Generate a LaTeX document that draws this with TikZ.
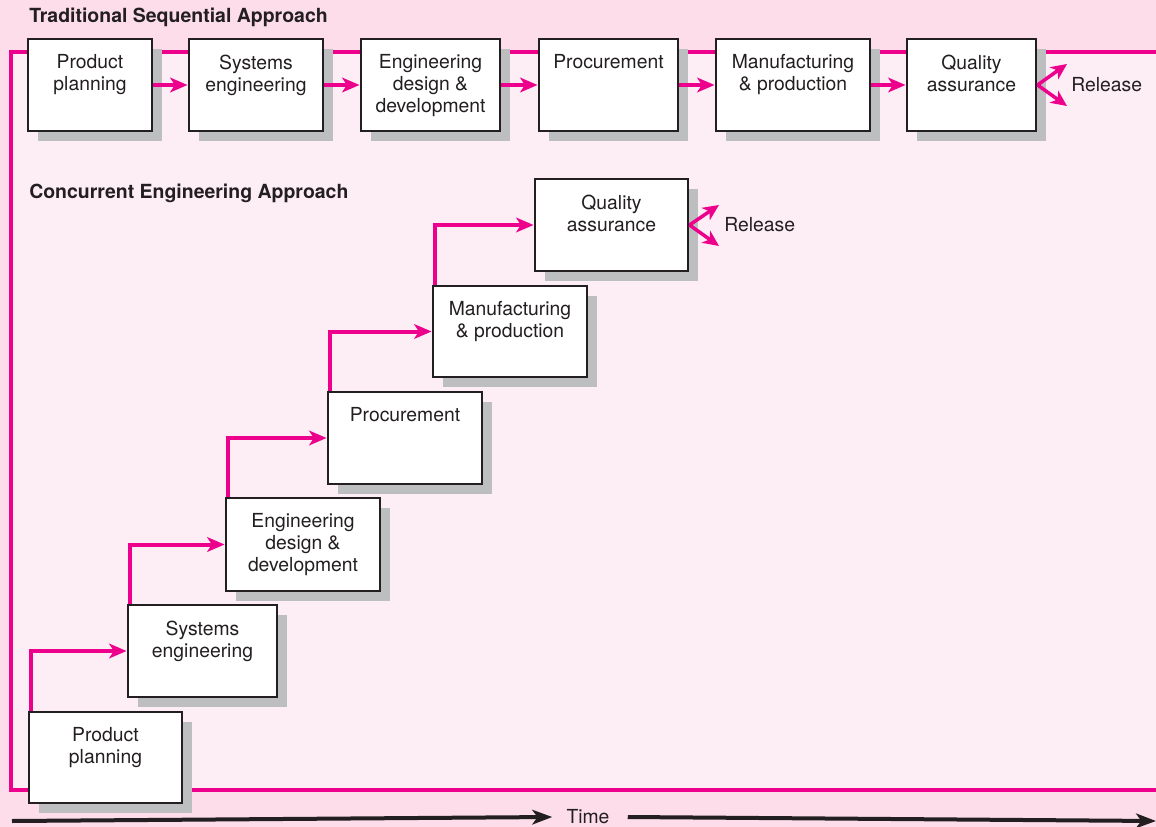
\documentclass[tikz,border=0pt]{standalone}
\usepackage{fontspec}
\setmainfont{TeX Gyre Heros}
\usetikzlibrary{arrows.meta,calc,fit}
\definecolor{mag}{RGB}{236,0,140}
\definecolor{bgout}{RGB}{252,221,233}
\definecolor{bgin}{RGB}{253,237,244}
\definecolor{shadecol}{RGB}{188,190,192}
\definecolor{ink}{RGB}{35,31,32}
\tikzset{
  stagebox/.style={draw=ink, line width=2.2pt, fill=white, inner sep=0pt},
  stagetext/.style={inner sep=0pt, anchor=north, align=center, text=ink,
    font=\fontsize{14.5}{16.5}\selectfont},
  flow/.style={draw=mag, line width=3pt,
    -{Stealth[length=13pt,width=11pt,inset=3.5pt]}},
  relarrow/.style={draw=mag, line width=2.6pt,
    -{Stealth[length=12pt,width=11pt,inset=3.5pt]}},
  timearrow/.style={draw=ink, line width=3pt,
    -{Stealth[length=15pt,width=11pt,inset=4pt]}},
  frame/.style={draw=mag, line width=2.4pt},
  title/.style={inner sep=0pt, anchor=west, text=ink,
    font=\fontsize{14.6}{16.5}\selectfont\bfseries},
  plain/.style={inner sep=0pt, text=ink, font=\fontsize{14.5}{16.5}\selectfont}
}
% #1 name, #2 x1, #3 y1, #4 x2, #5 y2, #6 text
\newcommand\stagenode[6]{%
  \fill[shadecol] (#2+10,#3+10) rectangle (#4+10,#5+10);
  \node[stagebox, fit={(#2,#3) (#4,#5)}] (#1) {};
  \node[stagetext] (#1-t) at ($(#1.north)+(0,17)$) {#6};
}
\begin{document}
\begin{tikzpicture}[x=0.75pt,y=-0.75pt]
\fill[bgout] (0,0) rectangle (1156,827);
\useasboundingbox (0,0) rectangle (1156,827);
\fill[bgin] (11,52) rectangle (1165,790);
\draw[frame] (1165,52) -- (11,52) -- (11,790) -- (1165,790);

\node[title] (t1) at (29,17) {Traditional Sequential Approach};
\node[title] (t2) at (29,193) {Concurrent Engineering Approach};

% sequential
\stagenode{pp1}{28}{39}{152}{131}{Product\\planning}
\stagenode{se1}{189}{39}{323}{131}{Systems\\engineering}
\stagenode{ed1}{361}{39}{500}{131}{Engineering\\design \&\\development}
\stagenode{pc1}{539}{39}{678}{131}{Procurement}
\stagenode{mp1}{716}{39}{870}{131}{Manufacturing\\\& production}
\stagenode{qa1}{907}{39}{1036}{131}{Quality\\assurance}

\draw[flow] (pp1.east) -- (se1.west);
\draw[flow] (se1.east) -- (ed1.west);
\draw[flow] (ed1.east) -- (pc1.west);
\draw[flow] (pc1.east) -- (mp1.west);
\draw[flow] (mp1.east) -- (qa1.west);

\coordinate (r1a) at (1067,64);
\coordinate (r1b) at (1067,106);
\draw[relarrow] (qa1.east) -- (r1a);
\draw[relarrow] (qa1.east) -- (r1b);
\node[plain, anchor=west] (rel1) at (1071,85) {Release};

% concurrent
\stagenode{qa2}{535}{179}{688}{271}{Quality\\assurance}
\stagenode{mp2}{433}{286}{587}{377}{Manufacturing\\\& production}
\stagenode{pc2}{328}{392}{482}{484}{Procurement}
\stagenode{ed2}{226}{498}{380}{591}{Engineering\\design \&\\development}
\stagenode{se2}{128}{605}{277}{697}{Systems\\engineering}
\stagenode{pp2}{29}{712}{182}{803}{Product\\planning}

\draw[flow] ($(pp2.north west)+(3.5,0)$) |- (se2.west);
\draw[flow] ($(se2.north west)+(3.5,0)$) |- (ed2.west);
\draw[flow] ($(ed2.north west)+(3.5,0)$) |- (pc2.west);
\draw[flow] ($(pc2.north west)+(3.5,0)$) |- (mp2.west);
\draw[flow] ($(mp2.north west)+(3.5,0)$) |- (qa2.west);

\coordinate (r2a) at (719,205);
\coordinate (r2b) at (719,246);
\draw[relarrow] (qa2.east) -- (r2a);
\draw[relarrow] (qa2.east) -- (r2b);
\node[plain, anchor=west] (rel2) at (724,225) {Release};

% time axis
\node[plain] (time) at (588,817) {Time};
\coordinate (tstart) at (12,821);
\coordinate (tend) at (1156,821);
\draw[timearrow] (tstart) -- ($(time.west)+(-14,0)$ |- tstart);
\draw[timearrow] ($(time.east)+(18,0)$ |- tstart) -- (tend);
\end{tikzpicture}
\end{document}
